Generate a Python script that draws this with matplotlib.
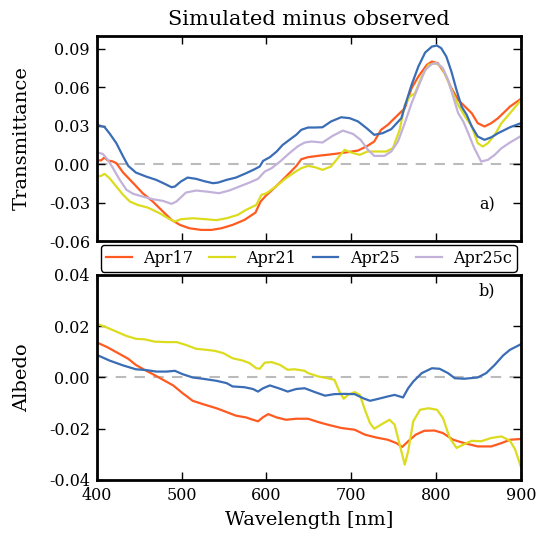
import matplotlib
matplotlib.use("Agg")
import matplotlib.pyplot as plt
from matplotlib.ticker import FormatStrFormatter

# ---------------- data ----------------
labels = ["Apr17", "Apr21", "Apr25", "Apr25c"]
colors = ["#FF5A1F", "#DCDC1E", "#3A6DB5", "#C2B2DA"]

# Transmittance (simulated minus observed)
t_wl_apr17 = [400, 405, 409, 413, 419, 423, 431, 443, 454, 466, 478, 488, 498, 509, 523, 535, 547, 560, 574, 587, 593, 599, 611, 623, 635, 641, 649, 664, 680, 696, 708, 719, 727, 735, 743, 755, 763, 771, 779, 789, 795, 802, 810, 818, 826, 834, 842, 849, 857, 865, 873, 881, 887, 900]
t_apr17 = [0.003, 0.003, 0.0052, 0.0029, 0.0021, 0.0008, -0.0065, -0.0148, -0.0226, -0.0291, -0.0369, -0.0434, -0.0473, -0.0499, -0.0512, -0.0512, -0.0499, -0.0473, -0.0434, -0.0377, -0.0291, -0.0247, -0.0174, -0.0096, -0.0015, 0.0039, 0.0055, 0.0068, 0.008, 0.0094, 0.0107, 0.0143, 0.0177, 0.0268, 0.0307, 0.0385, 0.0436, 0.0592, 0.0683, 0.0774, 0.08, 0.0787, 0.0709, 0.0592, 0.0501, 0.0449, 0.0397, 0.032, 0.0294, 0.032, 0.0359, 0.041, 0.0449, 0.051]

t_wl_apr21 = [400, 405, 409, 415, 423, 431, 439, 448, 460, 474, 486, 492, 499, 513, 529, 541, 553, 566, 576, 588, 594, 600, 611, 623, 635, 641, 649, 657, 666, 676, 684, 692, 700, 710, 719, 731, 741, 749, 757, 763, 769, 775, 783, 791, 799, 806, 812, 818, 826, 834, 842, 849, 855, 861, 869, 877, 887, 900]
t_apr21 = [-0.0096, -0.0091, -0.0075, -0.0109, -0.0174, -0.0239, -0.0291, -0.0317, -0.0338, -0.0382, -0.0429, -0.0447, -0.0429, -0.0421, -0.0429, -0.0436, -0.0421, -0.0395, -0.0356, -0.0317, -0.0239, -0.0226, -0.0174, -0.0109, -0.0055, -0.0031, -0.0013, -0.0023, -0.0044, -0.0018, 0.0047, 0.0112, 0.0091, 0.0073, 0.0099, 0.0099, 0.0099, 0.0125, 0.0268, 0.0462, 0.0527, 0.0553, 0.0683, 0.0774, 0.0787, 0.0761, 0.0683, 0.0579, 0.0462, 0.0372, 0.0294, 0.0164, 0.0138, 0.0164, 0.0229, 0.032, 0.0397, 0.05]

t_wl_apr25 = [400, 409, 415, 423, 431, 437, 446, 458, 470, 480, 488, 492, 499, 507, 517, 527, 537, 543, 553, 564, 576, 586, 592, 596, 604, 612, 619, 627, 635, 641, 649, 657, 666, 676, 688, 698, 708, 718, 727, 737, 747, 759, 763, 771, 779, 787, 795, 801, 806, 812, 818, 824, 830, 836, 842, 849, 857, 865, 873, 881, 887, 900]
t_apr25 = [0.0307, 0.029, 0.024, 0.0164, 0.006, -0.0013, -0.0065, -0.0096, -0.0122, -0.0153, -0.0179, -0.0174, -0.0135, -0.0104, -0.0114, -0.0133, -0.0148, -0.0143, -0.0122, -0.0104, -0.007, -0.0039, -0.0018, 0.0026, 0.0055, 0.0099, 0.015, 0.019, 0.0229, 0.0268, 0.0286, 0.0286, 0.0288, 0.0333, 0.0366, 0.0359, 0.0333, 0.0281, 0.0229, 0.0242, 0.0273, 0.0359, 0.045, 0.0618, 0.0761, 0.087, 0.0917, 0.0925, 0.0904, 0.0839, 0.0722, 0.0579, 0.0449, 0.0385, 0.0294, 0.0216, 0.019, 0.021, 0.0242, 0.0268, 0.0288, 0.032]

t_wl_apr25c = [400, 407, 413, 419, 427, 435, 443, 454, 466, 478, 488, 494, 505, 517, 529, 544, 556, 568, 580, 590, 598, 606, 616, 627, 637, 645, 653, 666, 678, 690, 702, 711, 719, 727, 739, 747, 755, 763, 771, 779, 787, 795, 801, 808, 814, 820, 826, 832, 837, 845, 853, 861, 869, 877, 887, 900]
t_apr25c = [0.0094, 0.008, 0.0034, -0.003, -0.0122, -0.02, -0.0231, -0.0252, -0.0273, -0.0286, -0.0309, -0.029, -0.0221, -0.0205, -0.0213, -0.0226, -0.0205, -0.0174, -0.0143, -0.0114, -0.0057, -0.0031, 0.0021, 0.0086, 0.014, 0.0169, 0.0177, 0.0169, 0.0221, 0.0262, 0.0236, 0.019, 0.0117, 0.0065, 0.0065, 0.0099, 0.0177, 0.032, 0.0475, 0.0605, 0.0735, 0.0782, 0.0787, 0.0748, 0.0657, 0.0527, 0.0397, 0.0333, 0.0255, 0.0125, 0.0021, 0.0034, 0.0073, 0.0125, 0.0169, 0.022]

# Albedo (simulated minus observed)
a_wl_apr17 = [400, 413, 425, 437, 446, 456, 466, 478, 490, 501, 513, 525, 541, 553, 564, 576, 584, 590, 596, 602, 612, 623, 635, 649, 661, 672, 688, 704, 716, 729, 743, 753, 760, 767, 776, 786, 798, 808, 820, 833, 849, 865, 877, 887, 900]
a_apr17 = [0.0137, 0.0117, 0.0095, 0.0073, 0.0049, 0.003, 0.0013, -0.0009, -0.0031, -0.0061, -0.0091, -0.0104, -0.012, -0.0135, -0.0149, -0.0156, -0.0165, -0.0171, -0.0155, -0.0143, -0.0156, -0.0165, -0.0161, -0.0161, -0.0174, -0.0184, -0.0197, -0.0204, -0.0223, -0.0234, -0.0243, -0.0256, -0.0271, -0.0249, -0.0223, -0.0208, -0.0207, -0.0217, -0.0243, -0.0256, -0.0269, -0.0269, -0.0256, -0.0243, -0.024]

a_wl_apr21 = [400, 411, 423, 435, 446, 456, 468, 482, 494, 505, 517, 529, 539, 549, 560, 572, 580, 588, 592, 598, 606, 616, 625, 633, 645, 649, 661, 672, 680, 686, 691, 696, 704, 710, 716, 722, 727, 735, 745, 751, 757, 763, 767, 773, 781, 791, 801, 808, 816, 824, 832, 842, 853, 865, 877, 887, 893, 900]
a_apr21 = [0.021, 0.0196, 0.0179, 0.0162, 0.0151, 0.0149, 0.014, 0.0138, 0.0138, 0.0127, 0.0112, 0.0108, 0.0104, 0.0095, 0.0075, 0.0066, 0.0056, 0.0036, 0.0034, 0.0058, 0.006, 0.0049, 0.003, 0.0032, 0.0026, 0.0017, 0.0004, -0.0003, -0.0009, -0.0055, -0.0083, -0.0068, -0.0057, -0.0068, -0.0126, -0.0178, -0.02, -0.0184, -0.0165, -0.0184, -0.0262, -0.034, -0.0288, -0.0171, -0.0126, -0.012, -0.0126, -0.0158, -0.0236, -0.0275, -0.0262, -0.0247, -0.0249, -0.0236, -0.023, -0.0247, -0.028, -0.035]

a_wl_apr25 = [400, 415, 431, 446, 458, 470, 482, 492, 501, 513, 525, 541, 553, 560, 574, 584, 590, 596, 604, 616, 625, 635, 645, 657, 669, 680, 692, 704, 714, 722, 731, 743, 751, 757, 761, 767, 773, 783, 795, 804, 814, 822, 833, 849, 859, 869, 879, 887, 900]
a_apr25 = [0.0088, 0.0066, 0.0047, 0.0032, 0.0029, 0.0023, 0.0023, 0.0026, 0.0013, 0.0, -0.0005, -0.0013, -0.0022, -0.0035, -0.0038, -0.0045, -0.0055, -0.0042, -0.0031, -0.0044, -0.0055, -0.0045, -0.0042, -0.0057, -0.0071, -0.0065, -0.0064, -0.0065, -0.0081, -0.0091, -0.0084, -0.0074, -0.0068, -0.0074, -0.0078, -0.0042, -0.0016, 0.0017, 0.0036, 0.0034, 0.0017, -0.0003, -0.0005, 0.0, 0.0017, 0.0049, 0.0086, 0.0108, 0.013]

t_xticks = [400, 500, 600, 700, 800, 900]
t_yticks = [-0.06, -0.03, 0.00, 0.03, 0.06, 0.09]
a_yticks = [-0.04, -0.02, 0.00, 0.02, 0.04]

# ---------------- plot ----------------
plt.rcParams["font.family"] = ["DejaVu Serif"]
plt.rcParams["axes.unicode_minus"] = True

fig = plt.figure(figsize=(5.41, 5.36), dpi=100)
ax1 = fig.add_axes([0.179, 0.550, 0.784, 0.383])
ax2 = fig.add_axes([0.179, 0.1045, 0.784, 0.3825])

lw = 1.6
top_series = [(t_wl_apr17, t_apr17), (t_wl_apr21, t_apr21), (t_wl_apr25, t_apr25), (t_wl_apr25c, t_apr25c)]
handles = []
for (wl, val), lab, col in zip(top_series, labels, colors):
    h, = ax1.plot(wl, val, color=col, lw=lw, label=lab)
    handles.append(h)

bot_series = [(a_wl_apr17, a_apr17), (a_wl_apr21, a_apr21), (a_wl_apr25, a_apr25)]
for (wl, val), col in zip(bot_series, colors[:3]):
    ax2.plot(wl, val, color=col, lw=lw)

for ax in (ax1, ax2):
    ax.axhline(0, color="#BBBBBB", lw=1.5, ls=(0, (5, 4)), zorder=0)
    ax.set_xlim(400, 900)
    ax.set_xticks(t_xticks)
    ax.tick_params(direction="in", top=True, right=True, length=6, width=1,
                   labelsize=11.5, pad=5)
    for s in ax.spines.values():
        s.set_linewidth(2)
    ax.yaxis.set_major_formatter(FormatStrFormatter("%.2f"))

ax1.set_ylim(-0.06, 0.10)
ax1.set_yticks(t_yticks)
ax1.tick_params(labelbottom=False)
ax2.set_ylim(-0.04, 0.04)
ax2.set_yticks(a_yticks)

ax1.set_title("Simulated minus observed", fontsize=15, pad=8)
ax1.set_ylabel("Transmittance", fontsize=14, labelpad=13)
ax2.set_ylabel("Albedo", fontsize=14, labelpad=13)
ax2.set_xlabel("Wavelength [nm]", fontsize=14, labelpad=5)

ax1.text(0.919, 0.176, "a)", transform=ax1.transAxes, fontsize=11.5, ha="center", va="center")
ax2.text(0.919, 0.92, "b)", transform=ax2.transAxes, fontsize=11.5, ha="center", va="center")

leg = fig.legend(handles=handles, labels=labels, loc="center", ncol=4,
                 bbox_to_anchor=(0.571, 0.518), fontsize=11.5, frameon=True,
                 fancybox=True, handlelength=1.6, handletextpad=0.7,
                 columnspacing=1.05, borderpad=0.3, borderaxespad=0)
leg.get_frame().set_edgecolor("black")
leg.get_frame().set_linewidth(1.0)
leg.get_frame().set_alpha(1)

fig.savefig("out.png", dpi=100)
